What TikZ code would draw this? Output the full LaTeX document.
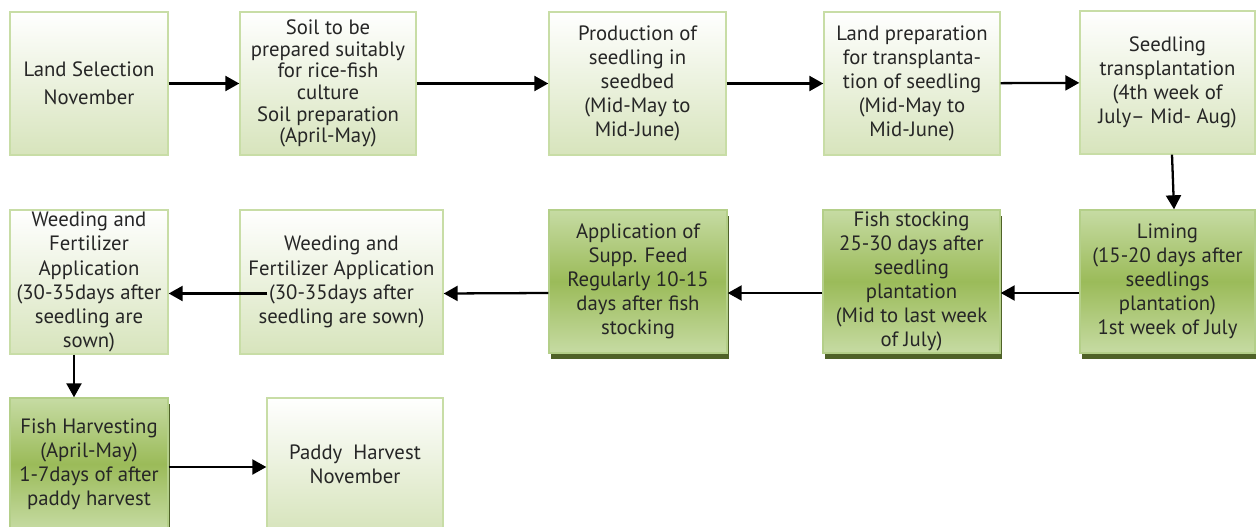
\documentclass[tikz,border=0pt]{standalone}
\usepackage{fontspec}
\setmainfont{PT Sans}
\usetikzlibrary{positioning,shadows,arrows.meta}
\definecolor{txtgray}{HTML}{262626}
\definecolor{lightgreen}{HTML}{D7E4BC}
\definecolor{lightborder}{HTML}{C8DDA6}
\definecolor{darktop}{HTML}{C6DBA3}
\definecolor{darkmid}{HTML}{9BBB59}
\definecolor{darkborder}{HTML}{B4CF89}
\definecolor{shadowgreen}{HTML}{4F6228}

\begin{document}
\begin{tikzpicture}[thick,
    light node/.style={rectangle,draw=lightborder,line width=0.8pt,top color=white,bottom color=lightgreen,
                       align=center,text=txtgray,inner sep=1pt,font=\fontsize{11.8}{13.7}\selectfont},
    dark node/.style={light node,draw=darkborder,top color=darktop,bottom color=darktop,middle color=darkmid,
                      drop shadow={shadow xshift=0.04cm,shadow yshift=-0.12cm,fill=shadowgreen,opacity=1}},
    step arrow/.style={line width=1.3pt,-{Triangle[length=0.28cm,width=0.3cm]}}
    ]
    \clip (0,0) rectangle (25.12,-10.54);
    % first row
    \node[light node,minimum width=3.16cm,minimum height=2.86cm,font=\fontsize{11.8}{16}\selectfont] (1) at (1.78,-1.67) {Land Selection\\November};
    \node[light node,minimum width=3.52cm,minimum height=2.86cm,font=\fontsize{11.8}{12.3}\selectfont] (2) at (6.56,-1.67) {Soil to be\\prepared suitably\\for rice-fish\\culture\\Soil preparation\\(April-May)};
    \node[light node,minimum width=3.54cm,minimum height=2.86cm] (3) at (12.75,-1.67) {Production of\\seedling in\\seedbed\\(Mid-May to\\Mid-June)};
    \node[light node,minimum width=3.52cm,minimum height=2.86cm] (4) at (18.24,-1.67) {Land preparation\\for transplanta-\\tion of seedling\\(Mid-May to\\Mid-June)};
    \node[light node,minimum width=3.50cm,minimum height=2.86cm] (5) at (23.35,-1.65) {Seedling\\transplantation\\(4th week of\\July-- Mid- Aug)};
    % second row, right to left
    \node[dark node,minimum width=3.50cm,minimum height=2.86cm] (6) at (23.35,-5.63) {Liming\\(15-20 days after\\seedlings\\plantation)\\1st week of July};
    \node[dark node,minimum width=3.54cm,minimum height=2.86cm] (7) at (18.23,-5.63) {Fish stocking\\25-30 days after\\seedling\\plantation\\(Mid to last week\\of July)};
    \node[dark node,minimum width=3.56cm,minimum height=2.86cm] (8) at (12.76,-5.63) {Application of\\Supp. Feed\\Regularly 10-15\\days after fish\\stocking};
    \node[light node,minimum width=4.06cm,minimum height=2.88cm] (9) at (6.83,-5.64) {Weeding and\\Fertilizer Application\\(30-35days after\\seedling are sown)};
    \node[light node,minimum width=3.16cm,minimum height=2.88cm] (10) at (1.78,-5.64) {Weeding and\\Fertilizer\\Application\\(30-35days after\\seedling are\\sown)};
    % third row
    \node[dark node,minimum width=3.16cm,minimum height=2.64cm] (11) at (1.78,-9.28) {Fish Harvesting\\(April-May)\\1-7days of after\\paddy harvest};
    \node[light node,minimum width=3.52cm,minimum height=2.64cm] (12) at (7.10,-9.28) {Paddy\ \ Harvest\\November};

    \path[step arrow]
      (1) edge (2)
      (2) edge (3)
      (3) edge (4)
      (4) edge (5)
      ([xshift=0.09cm]5.south) edge ([xshift=0.13cm]6.north)
      ([yshift=-0.23cm]6.west) edge ([yshift=-0.23cm]7.east)
      ([yshift=-0.23cm]7.west) edge ([yshift=-0.23cm]8.east)
      ([yshift=-0.23cm]8.west) edge ([yshift=-0.23cm]9.east)
      ([xshift=0.56cm,yshift=-0.23cm]9.west) edge ([yshift=-0.23cm]10.east) %line starts inside the box
      ([xshift=-0.30cm]10.south) edge ([xshift=-0.30cm]11.north)
      ([yshift=-0.06cm]11.east) edge ([yshift=-0.06cm]12.west);
\end{tikzpicture}
\end{document}
